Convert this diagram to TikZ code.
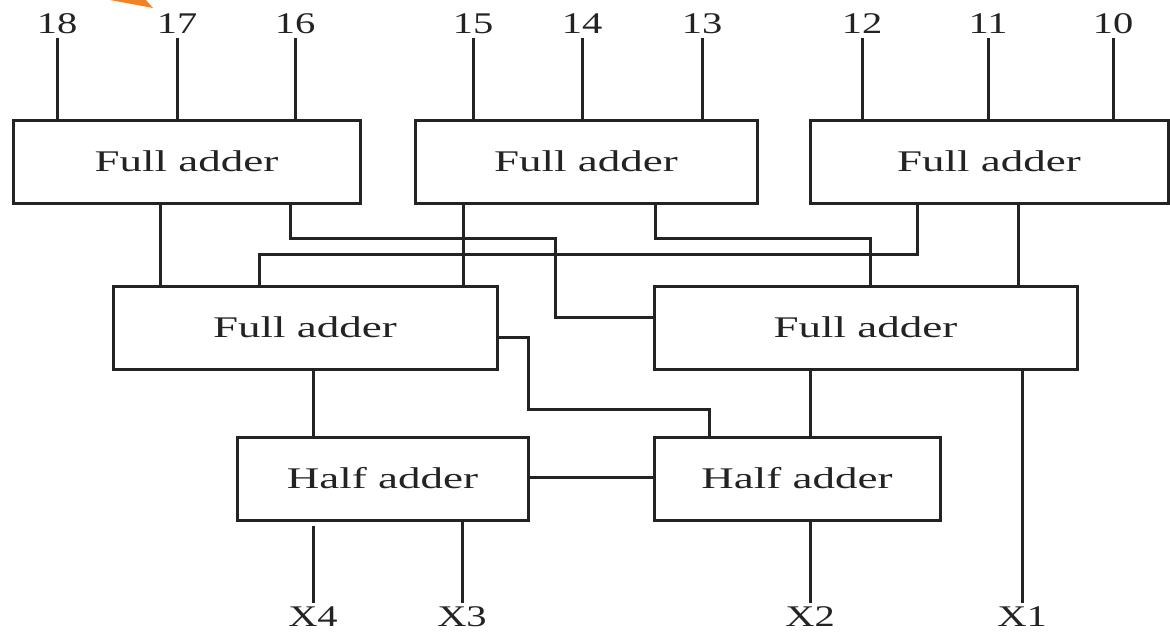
\documentclass[tikz,border=0pt]{standalone}
\usepackage{fontspec}
\setmainfont{Liberation Serif}
\usepackage{graphicx}
\definecolor{arrowor}{RGB}{240,130,40}
\definecolor{ink}{RGB}{35,35,35}
\begin{document}
\begin{tikzpicture}[x=1pt,y=-1pt,
  blk/.style={draw=ink,line width=3pt,minimum width=#1,minimum height=83pt,inner sep=0pt,
    text=ink,font=\fontsize{30}{34}\selectfont},
  wire/.style={draw=ink,line width=3pt},
  lbl/.style={text=ink,font=\fontsize{30}{34}\selectfont,inner sep=2pt}]
\useasboundingbox (0,0) rectangle (1170,635);
\fill[white] (0,0) rectangle (1170,635);
% orange pointer (clipped at top)
\fill[arrowor] (110,0) -- (146,0) -- (153,8) -- cycle;
% top row
\node[blk=347pt] (fa1) at (186.5,161.5) {\scalebox{1.5}[1]{Full adder}};
\node[blk=342pt] (fa2) at (586,161.5) {\scalebox{1.5}[1]{Full adder}};
\node[blk=358pt] (fa3) at (989,161.5) {\scalebox{1.5}[1]{Full adder}};
% middle row
\node[blk=384pt] (fa4) at (305,327.5) {\scalebox{1.5}[1]{Full adder}};
\node[blk=423pt] (fa5) at (865.5,327.5) {\scalebox{1.5}[1]{Full adder}};
% bottom row
\node[blk=291pt] (ha1) at (382.5,478.5) {\scalebox{1.5}[1]{Half adder}};
\node[blk=286pt] (ha2) at (797,478.5) {\scalebox{1.5}[1]{Half adder}};
% input labels
\node[lbl] (i18) at (57,24) {\scalebox{1.35}[1]{18}};
\node[lbl] (i17) at (177,24) {\scalebox{1.35}[1]{17}};
\node[lbl] (i16) at (295,24) {\scalebox{1.35}[1]{16}};
\node[lbl] (i15) at (473,24) {\scalebox{1.35}[1]{15}};
\node[lbl] (i14) at (582,24) {\scalebox{1.35}[1]{14}};
\node[lbl] (i13) at (702,24) {\scalebox{1.35}[1]{13}};
\node[lbl] (i12) at (862,24) {\scalebox{1.35}[1]{12}};
\node[lbl] (i11) at (988,24) {\scalebox{1.35}[1]{11}};
\node[lbl] (i10) at (1113,24) {\scalebox{1.35}[1]{10}};
% output labels
\node[lbl] (x4) at (313,617) {\scalebox{1.35}[1]{X4}};
\node[lbl] (x3) at (462,617) {\scalebox{1.35}[1]{X3}};
\node[lbl] (x2) at (810,617) {\scalebox{1.35}[1]{X2}};
\node[lbl] (x1) at (1022,617) {\scalebox{1.35}[1]{X1}};
% inputs
\foreach \n/\b in {i18/fa1,i17/fa1,i16/fa1,i15/fa2,i14/fa2,i13/fa2,i12/fa3,i11/fa3,i10/fa3}
  \draw[wire,shorten <=2pt] (\n.south) -- (\n.south |- \b.north);
% top row to middle row
\draw[wire] (160,0 |- fa1.south) -- (160,0 |- fa4.north);
\draw[wire] (290,0 |- fa1.south) -- (290,238) -- (555,238) -- (555,317) -- (fa5.west |- 0,317);
\draw[wire] (463,0 |- fa2.south) -- (463,0 |- fa4.north);
\draw[wire] (655,0 |- fa2.south) -- (655,238) -- (870,238) -- (870,0 |- fa5.north);
\draw[wire] (917,0 |- fa3.south) -- (917,254) -- (259,254) -- (259,0 |- fa4.north);
\draw[wire] (1018,0 |- fa3.south) -- (1018,0 |- fa5.north);
% middle row to bottom row
\draw[wire] (313,0 |- fa4.south) -- (313,0 |- ha1.north);
\draw[wire] (fa4.east |- 0,337) -- (528,337) -- (528,409) -- (709,409) -- (709,0 |- ha2.north);
\draw[wire] (810,0 |- fa5.south) -- (810,0 |- ha2.north);
\draw[wire,shorten >=2pt] (1022,0 |- fa5.south) -- (x1.north);
% half adder link
\draw[wire] (ha1.east |- 0,477) -- (ha2.west |- 0,477);
% outputs
\draw[wire,shorten <=4pt,shorten >=2pt] (313,0 |- ha1.south) -- (x4.north);
\draw[wire,shorten >=2pt] (462,0 |- ha1.south) -- (x3.north);
\draw[wire,shorten >=2pt] (810,0 |- ha2.south) -- (x2.north);
\end{tikzpicture}
\end{document}
